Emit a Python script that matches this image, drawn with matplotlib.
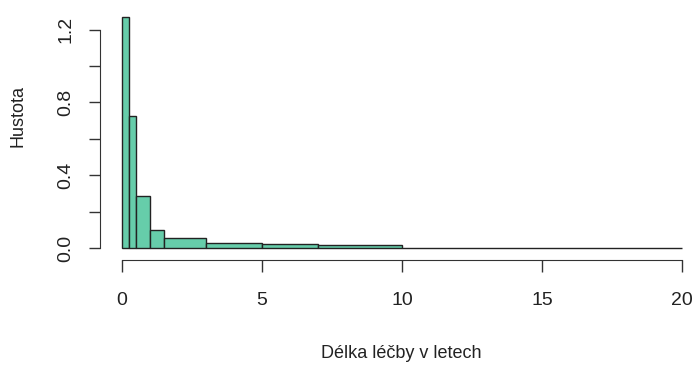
import numpy as np
import matplotlib.pyplot as plt

plt.rcParams['font.family'] = ['Liberation Sans', 'DejaVu Sans']

# hranice tříd a hustoty
breaks = [0, 0.25, 0.5, 1, 1.5, 3, 5, 7, 10, 20]
density = [1.27, 0.727, 0.285, 0.100, 0.056, 0.030, 0.023, 0.017, 0.002]
xticks = [0, 5, 10, 15, 20]
yticks = [0.0, 0.2, 0.4, 0.6, 0.8, 1.0, 1.2]
ytick_labels = ["0.0", "", "0.4", "", "0.8", "", "1.2"]

W, H = 694, 365
fig = plt.figure(figsize=(W / 100, H / 100), dpi=100)

# plot region in pixels (R style, 4 % padding)
left_px, top_px, bottom_px = 99.6, 7.7, 257.4
ax = fig.add_axes([left_px / W, 1 - bottom_px / H, 1 - left_px / W, (bottom_px - top_px) / H])

b = np.array(breaks)
ax.bar(b[:-1], density, width=np.diff(b), align='edge', color="#66CDAA",
       edgecolor="#222222", linewidth=1.0)

ax.set_xlim(-0.8, (W - 122) / 28.0)
ax.set_ylim(-0.05, 1.32)

for s in ["top", "right"]:
    ax.spines[s].set_visible(False)
ax.spines["left"].set_bounds(0, 1.2)
ax.spines["bottom"].set_bounds(0, 20)
ax.spines["bottom"].set_position(("outward", 2))
ax.spines["left"].set_color("#333333")
ax.spines["bottom"].set_color("#333333")

ax.set_xticks(xticks)
ax.set_xticklabels([str(t) for t in xticks])
ax.set_yticks(yticks)
ax.set_yticklabels(ytick_labels, rotation=90, va="center")
ax.tick_params(axis="x", length=8.6, width=1, color="#333333", pad=14, labelsize=14, labelcolor="#222222")
ax.tick_params(axis="y", length=8, width=1, color="#333333", pad=10, labelsize=14, labelcolor="#222222")

fig.text(401.5 / W, 1 - 353 / H, "Délka léčby v letech", ha="center", va="center",
         fontsize=13, color="#222222")
fig.text(18 / W, 1 - 116 / H, "Hustota", ha="center", va="center", rotation=90,
         fontsize=13, color="#222222")

fig.savefig("out.png", dpi=100)
